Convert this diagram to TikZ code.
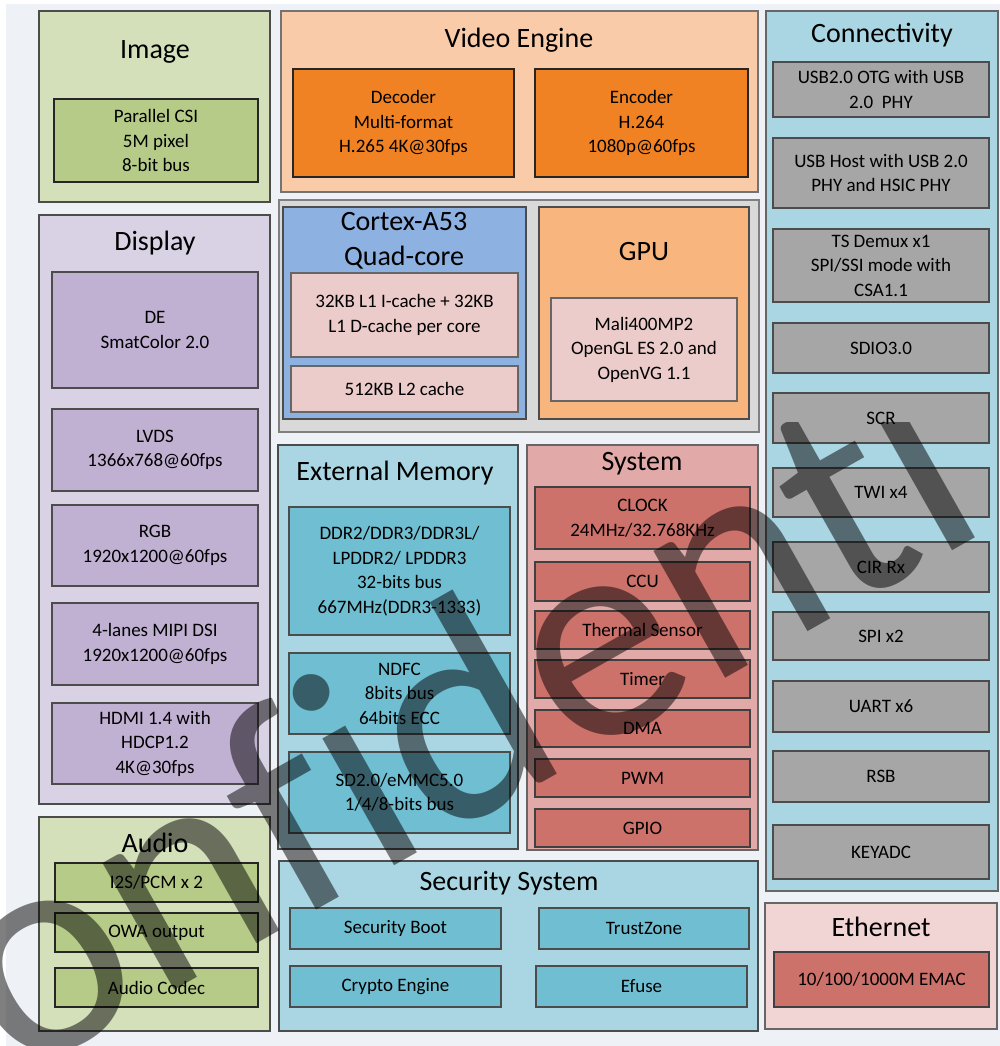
\documentclass[tikz,border=0pt]{standalone}
\usepackage{fontspec}
\setmainfont{Carlito}
\newfontfamily\wmfont[Ligatures=NoCommon]{Carlito}
\begin{document}
\begin{tikzpicture}[x=1pt,y=-1pt,
  base/.style={inner sep=0pt,outer sep=0pt,align=center,text=black},
  outer/.style={base,draw=black!70,line width=1.2pt},
  inner/.style={base,draw=black!85,line width=1.1pt,font=\fontsize{19}{24.5}\selectfont},
  ttl/.style={inner sep=0pt,align=center,font=\fontsize{28}{35}\selectfont},
  greenbg/.style={outer,fill=green1},
  greenin/.style={inner,fill=green2},
]
\definecolor{green1}{HTML}{D4E0BA}
\definecolor{green2}{HTML}{B6CB88}
\definecolor{peach}{HTML}{FACBA8}
\definecolor{orange1}{HTML}{F08224}
\definecolor{cpugray}{HTML}{D9D9D9}
\definecolor{cpublue}{HTML}{8DB1E0}
\definecolor{pink1}{HTML}{EBCCCA}
\definecolor{gpuorange}{HTML}{F8B57E}
\definecolor{aqua1}{HTML}{A9D6E2}
\definecolor{aqua2}{HTML}{70BED1}
\definecolor{gray1}{HTML}{A6A6A6}
\definecolor{lav1}{HTML}{D9D2E5}
\definecolor{lav2}{HTML}{C0B0D2}
\definecolor{sys1}{HTML}{E1A9A8}
\definecolor{red1}{HTML}{CD716B}
\definecolor{eth1}{HTML}{F1D4D4}
\definecolor{bgc}{HTML}{EEF2F6}
\newcommand{\bx}[7]{\node[#6, minimum width={(#4-#2)*1pt}, minimum height={(#5-#3)*1pt}] (#1) at ({(#2+#4)/2},{(#3+#5)/2}) {#7};}
\useasboundingbox (0,0) rectangle (1000,1046);
\fill[white] (0,0) rectangle (1000,1046);
\fill[bgc] (6,4) rectangle (1000,1046);
% Image
\bx{image}{39}{11}{270}{202}{greenbg}{}
\node[ttl] (imaget) at (155,52) {Image};
\bx{csi}{54}{99}{258}{182}{greenin}{Parallel CSI\\5M pixel\\8-bit bus}
% Video engine
\bx{video}{281}{11}{758}{192}{outer,fill=peach,draw=black!55}{}
\node[ttl] (videot) at (519,40) {Video Engine};
\bx{dec}{293}{69}{514}{177}{inner,fill=orange1}{Decoder\\Multi-format\\H.265 4K@30fps}
\bx{enc}{535}{69}{748}{177}{inner,fill=orange1}{Encoder\\H.264\\1080p@60fps}
% CPU / GPU group
\bx{cpugrp}{279}{200}{759}{432}{outer,fill=cpugray,draw=black!50}{}
\bx{cortex}{283}{207}{526}{419}{outer,fill=cpublue}{}
\node[ttl] (cortext) at (404,241) {Cortex-A53\\Quad-core};
\bx{lone}{291}{273}{518}{357}{inner,fill=pink1,draw=black!60}{32KB L1 I-cache + 32KB\\L1 D-cache per core}
\bx{ltwo}{291}{366}{518}{412}{inner,fill=pink1,draw=black!60}{512KB L2 cache}
\bx{gpu}{539}{207}{749}{419}{outer,fill=gpuorange}{}
\node[ttl] (gput) at (644,252) {GPU};
\bx{mali}{551}{298}{737}{401}{inner,fill=pink1,draw=black!60}{Mali400MP2\\OpenGL ES 2.0 and\\OpenVG 1.1}
% Connectivity
\bx{conn}{766}{11}{998}{891}{outer,fill=aqua1,draw=black!60}{}
\node[ttl] (connt) at (882,35) {Connectivity};
\bx{usbotg}{773}{62}{989}{117}{inner,fill=gray1,draw=black!70}{USB2.0 OTG with USB\\2.0\ \ PHY}
\bx{usbhost}{773}{138}{989}{208}{inner,fill=gray1,draw=black!70}{USB Host with USB 2.0\\PHY and HSIC PHY}
\bx{ts}{773}{229}{989}{302}{inner,fill=gray1,draw=black!70}{TS Demux x1\\SPI/SSI mode with\\CSA1.1}
\bx{sdio}{773}{323}{989}{373}{inner,fill=gray1,draw=black!70}{SDIO3.0}
\bx{scr}{773}{393}{989}{443}{inner,fill=gray1,draw=black!70}{SCR}
\bx{twi}{773}{468}{989}{517}{inner,fill=gray1,draw=black!70}{TWI x4}
\bx{cir}{773}{542}{989}{592}{inner,fill=gray1,draw=black!70}{CIR Rx}
\bx{spi}{773}{612}{989}{660}{inner,fill=gray1,draw=black!70}{SPI x2}
\bx{uart}{773}{681}{989}{732}{inner,fill=gray1,draw=black!70}{UART x6}
\bx{rsb}{773}{751}{989}{802}{inner,fill=gray1,draw=black!70}{RSB}
\bx{keyadc}{773}{825}{989}{879}{inner,fill=gray1,draw=black!70}{KEYADC}
% Display
\bx{display}{39}{215}{270}{804}{outer,fill=lav1}{}
\node[ttl] (displayt) at (155,243) {Display};
\bx{de}{52}{272}{258}{388}{inner,fill=lav2,draw=black!70}{DE\\SmatColor 2.0}
\bx{lvds}{52}{409}{258}{491}{inner,fill=lav2,draw=black!70}{LVDS\\1366x768@60fps}
\bx{rgb}{52}{505}{258}{586}{inner,fill=lav2,draw=black!70}{RGB\\1920x1200@60fps}
\bx{mipi}{52}{603}{258}{685}{inner,fill=lav2,draw=black!70}{4-lanes MIPI DSI\\1920x1200@60fps}
\bx{hdmi}{52}{703}{258}{784}{inner,fill=lav2,draw=black!70}{HDMI 1.4 with\\HDCP1.2\\4K@30fps}
% Audio
\bx{audio}{39}{817}{270}{1031}{greenbg}{}
\node[ttl] (audiot) at (155,843) {Audio};
\bx{i2s}{55}{863}{258}{902}{greenin}{I2S/PCM x 2}
\bx{owa}{55}{913}{258}{952}{greenin}{OWA output}
\bx{codec}{55}{968}{258}{1007}{greenin}{Audio Codec}
% External memory
\bx{extmem}{278}{445}{518}{849}{outer,fill=aqua1}{}
\node[ttl] (extmemt) at (395,473) {External Memory};
\bx{ddr}{289}{507}{510}{635}{inner,fill=aqua2,draw=black!70}{DDR2/DDR3/DDR3L/\\LPDDR2/ LPDDR3\\32-bits bus\\667MHz(DDR3-1333)}
\bx{ndfc}{289}{653}{510}{734}{inner,fill=aqua2,draw=black!70}{NDFC\\8bits bus\\64bits ECC}
\bx{sd}{289}{752}{510}{833}{inner,fill=aqua2,draw=black!70}{SD2.0/eMMC5.0\\1/4/8-bits bus}
% System
\bx{system}{527}{445}{758}{850}{outer,fill=sys1,draw=black!60}{}
\node[ttl] (systemt) at (642,464) {System};
\bx{clock}{535}{487}{750}{549}{inner,fill=red1,draw=black!75}{CLOCK\\24MHz/32.768KHz}
\bx{ccu}{535}{562}{750}{601}{inner,fill=red1,draw=black!75}{CCU}
\bx{thermal}{535}{611}{750}{649}{inner,fill=red1,draw=black!75}{Thermal Sensor}
\bx{timer}{535}{660}{750}{698}{inner,fill=red1,draw=black!75}{Timer}
\bx{dma}{535}{710}{750}{747}{inner,fill=red1,draw=black!75}{DMA}
\bx{pwm}{535}{759}{750}{797}{inner,fill=red1,draw=black!75}{PWM}
\bx{gpio}{535}{809}{750}{847}{inner,fill=red1,draw=black!75}{GPIO}
% Security
\bx{security}{279}{861}{758}{1031}{outer,fill=aqua1}{}
\node[ttl] (securityt) at (509,883) {Security System};
\bx{secboot}{290}{908}{501}{949}{inner,fill=aqua2,draw=black!70}{Security Boot}
\bx{trust}{539}{908}{749}{949}{inner,fill=aqua2,draw=black!70}{TrustZone}
\bx{crypto}{290}{966}{501}{1007}{inner,fill=aqua2,draw=black!70}{Crypto Engine}
\bx{efuse}{536}{966}{747}{1007}{inner,fill=aqua2,draw=black!70}{Efuse}
% Ethernet
\bx{eth}{765}{903}{997}{1029}{outer,fill=eth1,draw=black!60}{}
\node[ttl] (etht) at (881,927) {Ethernet};
\bx{emac}{774}{952}{989}{1007}{inner,fill=red1,draw=black!75}{10/100/1000M EMAC}
% watermark
\begin{scope}
\clip (0,422) -- (925,422) -- (996,548) -- (1000,555) -- (1000,1046) -- (0,1046) -- cycle;
\node[rotate=29.5,anchor=base west,inner sep=0pt,text=black,text opacity=0.5,
  font=\wmfont\fontsize{305}{305}\selectfont] (wm) at (-125,1160) {Confidential};
\end{scope}
\end{tikzpicture}
\end{document}
